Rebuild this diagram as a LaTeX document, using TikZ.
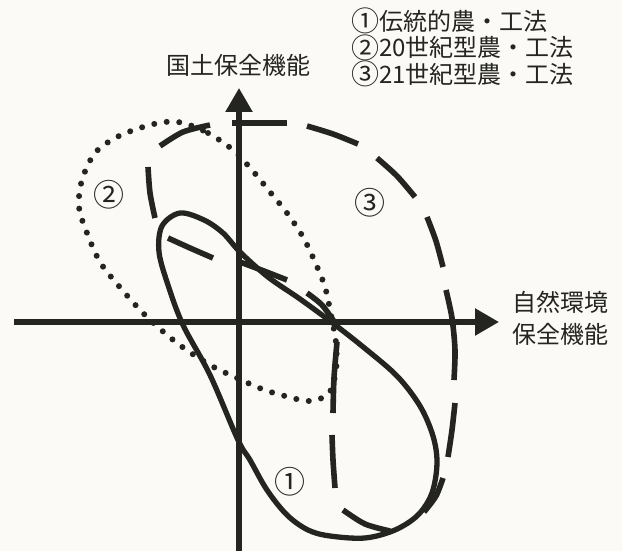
\documentclass[tikz,border=0pt]{standalone}
\usepackage{fontspec}
\setmainfont{Noto Sans CJK JP}
\usetikzlibrary{arrows.meta}
\definecolor{ink}{RGB}{36,36,32}
\definecolor{paper}{RGB}{251,250,246}
\newcommand\cdig[1]{{\fontsize{28}{28}\selectfont\raisebox{-1.5pt}{#1}}}
\newcommand\cdigbig[1]{{\fontsize{31}{31}\selectfont#1}}
\tikzset{
  axisline/.style={line width=5.4pt, draw=ink, -{Triangle[length=24pt,width=26pt]}},
  solidcurve/.style={line width=5.3pt, draw=ink, line join=round},
  dottedcurve/.style={line width=6pt, draw=ink, line cap=round, dash pattern=on 0pt off 12.6pt},
  dashpiece/.style={line width=5.6pt, draw=ink},
  lbl/.style={inner sep=0pt, font=\fontsize{24}{27}\selectfont, text=ink},
}
\begin{document}
\begin{tikzpicture}[x=1pt,y=-1pt]
\useasboundingbox (0,0) rectangle (622,551);
\fill[paper] (0,0) rectangle (622,551);

% axes
\coordinate (xs) at (14,322);
\coordinate (xe) at (499,322);
\coordinate (ys) at (239,551);
\coordinate (ye) at (239,88);
\draw[axisline] (xs) -- (xe);
\draw[axisline] (ys) -- (ye);

% curve 2 (dotted)
\draw[dottedcurve] plot[smooth cycle, tension=0.55] coordinates {
 (183,123) (208,133) (233,150) (252,170) (270,192) (287,213) (303,237)
 (315,262) (325,287) (331,315) (336,343) (336,370) (329,393) (310,401)
 (285,396) (262,389) (237,378) (210,365) (177,343) (145,315) (118,285)
 (100,262) (87,233) (79,207) (82,180) (95,153) (117,137) (143,127) (165,122)};

% curve 1 (solid)
\draw[solidcurve] plot[smooth cycle, tension=0.55] coordinates {
 (180,213) (204,220) (223,233) (240,252) (268,277) (300,299) (330,321)
 (362,346) (397,376) (420,406) (433,436) (437,463) (432,493) (418,515)
 (395,530) (365,538) (330,536) (308,530) (287,515) (267,490) (250,460)
 (238,440) (210,375) (183,325) (168,285) (159,252) (162,226)};

% curve 3 (long dashes)
\draw[dashpiece] plot[smooth] coordinates {(160,146) (183,132) (210,125)};
\draw[dashpiece] (232,123) -- (287,123);
\draw[dashpiece] plot[smooth] coordinates {(307,126) (333,134) (358,144)};
\draw[dashpiece] plot[smooth] coordinates {(377,158) (397,176) (415,197)};
\draw[dashpiece] plot[smooth] coordinates {(427,217) (436,241) (443,267)};
\draw[dashpiece] plot[smooth] coordinates {(446,290) (452,318) (455,350) (454,380)};
\draw[dashpiece] plot[smooth] coordinates {(455,403) (452,430) (448,457)};
\draw[dashpiece] plot[smooth] coordinates {(443,478) (436,496) (424,512)};
\draw[dashpiece] plot[smooth] coordinates {(343,510) (365,524) (390,531)};
\draw[dashpiece] plot[smooth] coordinates {(335,488) (333,460) (332,435)};
\draw[dashpiece] plot[smooth] coordinates {(333,413) (334,378) (337,342)};
\draw[dashpiece] plot[smooth] coordinates {(307,293) (322,305) (335,323)};
\draw[dashpiece] plot[smooth] coordinates {(287,280) (264,271) (240,262)};
\draw[dashpiece] plot[smooth] coordinates {(213,258) (190,248) (168,238)};
\draw[dashpiece] plot[smooth] coordinates {(155,218) (150,193) (148,167)};

% labels
\node[lbl, anchor=base] (title) at (238.5,75) {国土保全機能};
\node[lbl, anchor=base west] (leg1) at (351,30.5) {\cdig{①}伝統的農・工法};
\node[lbl, anchor=base west] (leg2) at (351,57) {\cdig{②}20世紀型農・工法};
\node[lbl, anchor=base west] (leg3) at (351,83.5) {\cdig{③}21世紀型農・工法};
\node[lbl, anchor=base west] (xl1) at (512,311) {自然環境};
\node[lbl, anchor=base west] (xl2) at (512,343) {保全機能};
\node[lbl] (c2) at (109,195) {\cdigbig{②}};
\node[lbl] (c3) at (370,203) {\cdigbig{③}};
\node[lbl] (c1) at (290,482) {\cdigbig{①}};
\end{tikzpicture}
\end{document}
